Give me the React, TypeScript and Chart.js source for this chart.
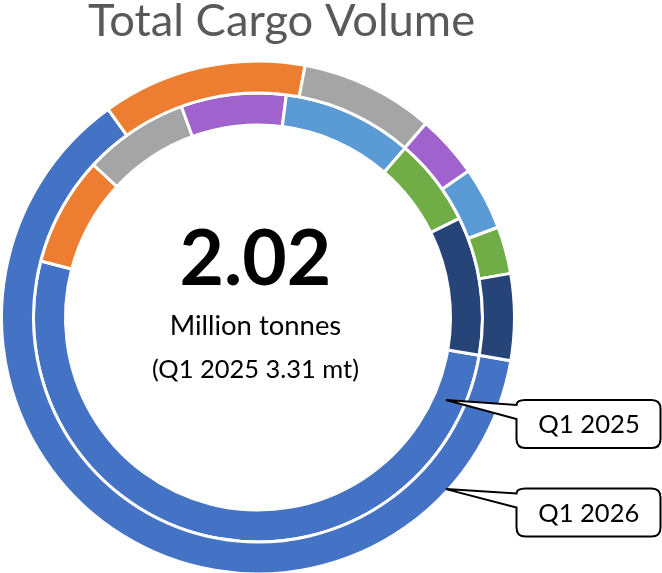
import React, { useEffect, useRef } from "react";
import { Chart, registerables } from "chart.js";

Chart.register(...registerables);

// ---- data ----
const categories = ["Segment 1", "Segment 2", "Segment 3", "Segment 4", "Segment 5", "Segment 6", "Segment 7"];
const seriesNames = ["Q1 2026", "Q1 2025"];
const valuesQ1_2026 = [1.26, 0.26, 0.17, 0.08, 0.08, 0.06, 0.11];
const valuesQ1_2025 = [1.7, 0.26, 0.25, 0.25, 0.31, 0.21, 0.33];
const segmentColors = ["#4472C4", "#ED7D31", "#A5A5A5", "#A062CC", "#5B9BD5", "#70AD47", "#264478"];
const titleText = "Total Cargo Volume";
const unitText = "Million tonnes";
const unitShort = "mt";

const sum = (a: number[]) => a.reduce((s, v) => s + v, 0);

const FONT = "Lato, 'Open Sans', 'DejaVu Sans', sans-serif";

function drawFitted(
  ctx: CanvasRenderingContext2D,
  text: string,
  weight: string,
  inkLeft: number,
  inkWidth: number,
  baseline: number,
  color: string
) {
  ctx.font = `${weight} 100px ${FONT}`;
  const m = ctx.measureText(text);
  const w = m.actualBoundingBoxLeft + m.actualBoundingBoxRight;
  const size = (100 * inkWidth) / w;
  ctx.font = `${weight} ${size}px ${FONT}`;
  const m2 = ctx.measureText(text);
  ctx.fillStyle = color;
  ctx.textAlign = "left";
  ctx.textBaseline = "alphabetic";
  ctx.fillText(text, inkLeft + m2.actualBoundingBoxLeft, baseline);
}

function drawCallout(
  ctx: CanvasRenderingContext2D,
  tipX: number,
  tipY: number,
  left: number,
  top: number,
  right: number,
  bottom: number
) {
  const r = 9;
  ctx.save();
  ctx.beginPath();
  ctx.moveTo(left + r, top);
  ctx.lineTo(right - r, top);
  ctx.quadraticCurveTo(right, top, right, top + r);
  ctx.lineTo(right, bottom - r);
  ctx.quadraticCurveTo(right, bottom, right - r, bottom);
  ctx.lineTo(left + r, bottom);
  ctx.quadraticCurveTo(left, bottom, left, bottom - r);
  ctx.lineTo(left, top + 19);
  ctx.lineTo(tipX, tipY);
  ctx.lineTo(left, top + 5);
  ctx.quadraticCurveTo(left, top, left + r, top);
  ctx.closePath();
  ctx.fillStyle = "#ffffff";
  ctx.fill();
  ctx.lineWidth = 2;
  ctx.strokeStyle = "#000000";
  ctx.lineJoin = "miter";
  ctx.stroke();
  ctx.restore();
}

const overlayPlugin = {
  id: "overlay",
  afterDraw(chart: any) {
    const ctx: CanvasRenderingContext2D = chart.ctx;
    const outer: any = chart.getDatasetMeta(0).data[0];
    const inner: any = chart.getDatasetMeta(1).data[0];
    const cx = outer.x;
    const cy = outer.y;

    ctx.save();
    // title
    drawFitted(ctx, titleText, "normal", 88, 385, 36, "#595959");

    // center texts
    const main = sum(valuesQ1_2026).toFixed(2);
    const cmp = `(${seriesNames[1]} ${sum(valuesQ1_2025).toFixed(2)} ${unitShort})`;
    drawFitted(ctx, main, "bold", cx - 3.3 - 146.3 / 2, 146.3, 285, "#000000");
    drawFitted(ctx, unitText, "normal", cx - 2.2 - 168.3 / 2, 168.3, 335, "#000000");
    drawFitted(ctx, cmp, "normal", cx - 2.4 - 205 / 2, 205, 377.7, "#000000");

    // callouts
    const a1 = (23.7 * Math.PI) / 180;
    const r1 = inner.innerRadius + 0.4 * (inner.outerRadius - inner.innerRadius);
    drawCallout(ctx, cx + r1 * Math.cos(a1), cy + r1 * Math.sin(a1), 516.5, 400, 660.5, 448);
    drawFitted(ctx, seriesNames[1], "normal", 539.3, 99, 433.3, "#000000");

    const a2 = (42.4 * Math.PI) / 180;
    const r2 = outer.outerRadius - 2;
    drawCallout(ctx, cx + r2 * Math.cos(a2), cy + r2 * Math.sin(a2), 516.5, 488.5, 660.5, 536.5);
    drawFitted(ctx, seriesNames[0], "normal", 539.3, 99, 521.6, "#000000");
    ctx.restore();
  },
};

export default function App() {
  const ref = useRef<HTMLCanvasElement>(null);
  useEffect(() => {
    const chart = new Chart(ref.current as HTMLCanvasElement, {
      type: "doughnut",
      data: {
        labels: categories,
        datasets: [
          {
            label: seriesNames[0],
            data: valuesQ1_2026,
            backgroundColor: segmentColors,
            borderColor: "#ffffff",
            borderWidth: 3,
            hoverOffset: 0,
          },
          {
            label: seriesNames[1],
            data: valuesQ1_2025,
            backgroundColor: segmentColors,
            borderColor: "#ffffff",
            borderWidth: 3,
            hoverOffset: 0,
          },
        ],
      },
      options: {
        responsive: false,
        animation: false,
        rotation: 99.7,
        radius: 256.5,
        cutout: "75.05%",
        events: [],
        layout: { padding: { left: 0, right: 146, top: 62, bottom: 0 } },
        plugins: {
          legend: { display: false },
          tooltip: { enabled: false },
          title: { display: false },
        },
      } as any,
      plugins: [overlayPlugin],
    });
    return () => chart.destroy();
  }, []);
  return (
    <div style={{ position: "absolute", left: 0, top: 0, width: 662, height: 573 }}>
      <canvas ref={ref} width={662} height={573} style={{ display: "block" }} />
    </div>
  );
}
